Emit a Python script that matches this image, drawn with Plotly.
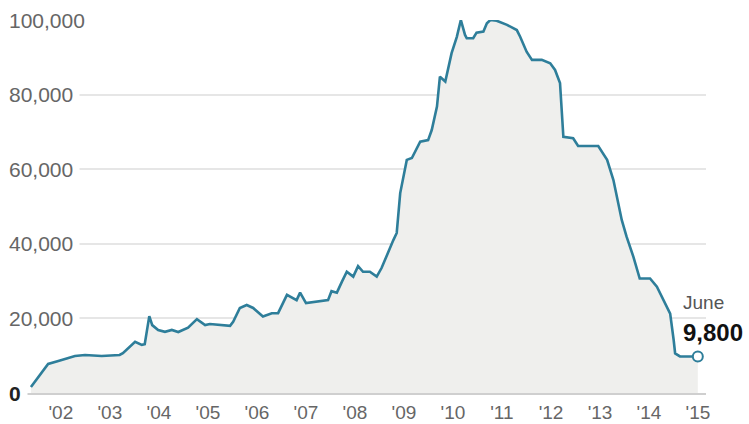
import plotly.graph_objects as go

# ---- data ----
dates = [
    "2001-11-20", "2002-03-28", "2002-06-12", "2002-10-14", "2002-12-28",
    "2003-05-01", "2003-09-12", "2003-10-06", "2004-01-05", "2004-02-24",
    "2004-03-17", "2004-04-20", "2004-05-12", "2004-06-25", "2004-08-15",
    "2004-10-05", "2004-11-22", "2005-02-03", "2005-04-10", "2005-06-10",
    "2005-07-16", "2005-12-13", "2006-01-05", "2006-02-24", "2006-04-16",
    "2006-06-03", "2006-08-15", "2006-10-20", "2006-12-06", "2007-02-10",
    "2007-04-23", "2007-05-19", "2007-07-02", "2007-09-20", "2007-12-13",
    "2008-01-08", "2008-02-17", "2008-03-25", "2008-05-01", "2008-06-18",
    "2008-07-24", "2008-08-30", "2008-10-20", "2008-12-10", "2009-01-15",
    "2009-04-13", "2009-05-08", "2009-06-03", "2009-07-22", "2009-08-29",
    "2009-10-30", "2009-12-28", "2010-01-24", "2010-03-04", "2010-03-26",
    "2010-05-05", "2010-06-21", "2010-07-30", "2010-08-29", "2010-09-29",
    "2010-10-12", "2010-11-29", "2010-12-24", "2011-02-13", "2011-03-11",
    "2011-04-06", "2011-05-23", "2011-08-08", "2011-10-20", "2011-11-14",
    "2012-01-01", "2012-02-10", "2012-04-23", "2012-06-25", "2012-07-31",
    "2012-09-06", "2012-10-01", "2012-12-13", "2013-01-19", "2013-06-18",
    "2013-08-23", "2013-10-09", "2013-11-03", "2013-12-10", "2014-01-15",
    "2014-03-07", "2014-04-23", "2014-07-09", "2014-08-29", "2014-10-16",
    "2014-12-06", "2015-01-01", "2015-01-12", "2015-02-17", "2015-06-30",
]
troops = [
    1600, 7800, 8600, 9900, 10200,
    9900, 10200, 10700, 13750, 12900,
    13100, 20600, 18200, 16900, 16400,
    16900, 16350, 17500, 19800, 18200,
    18500, 18000, 19100, 22800, 23600,
    22800, 20500, 21400, 21400, 26300,
    24900, 26900, 24100, 24500, 24900,
    27300, 26900, 29800, 32500, 31200,
    34000, 32500, 32500, 31200, 33500,
    41000, 42900, 53600, 62500, 63000,
    67400, 67800, 70500, 76800, 84800,
    83500, 91100, 95500, 100000, 96000,
    95100, 95100, 96600, 96900, 99100,
    100000, 99800, 98700, 97300, 95500,
    91500, 89300, 89300, 88400, 86600,
    83100, 68700, 68300, 66200, 66200,
    62500, 57100, 52600, 46400, 41900,
    36500, 30700, 30700, 28500, 24900,
    21300, 14200, 10600, 9800, 9800,
]

x_tick_vals = [f"{y}-07-01" for y in range(2002, 2016)]
x_tick_text = ["'02", "'03", "'04", "'05", "'06", "'07", "'08",
               "'09", "'10", "'11", "'12", "'13", "'14", "'15"]
year_bounds = [f"{y}-01-01" for y in range(2002, 2016)]
y_tick_vals = [0, 20000, 40000, 60000, 80000, 100000]
y_tick_text = ["0", "20,000", "40,000", "60,000", "80,000", "100,000"]

last_label = "June"
last_value_text = "9,800"

LINE = "#2e7e9a"
FILL = "#efefed"
FONT = "Liberation Sans, Arial, sans-serif"

fig = go.Figure()
fig.add_trace(go.Scatter(
    x=dates, y=troops, mode="lines",
    line=dict(color=LINE, width=2.6),
    fill="tozeroy", fillcolor=FILL,
    hoverinfo="skip", showlegend=False,
))
fig.add_trace(go.Scatter(
    x=[dates[-1]], y=[troops[-1]], mode="markers",
    marker=dict(size=10, color="white", line=dict(color=LINE, width=2)),
    hoverinfo="skip", showlegend=False,
))

# y tick labels drawn as annotations with white background to break gridlines
for v, t in zip(y_tick_vals, y_tick_text):
    is_zero = v == 0
    fig.add_annotation(
        xref="paper", yref="y", x=0, y=v, xanchor="left", yanchor="middle",
        text=f"<b>{t}</b>" if is_zero else t,
        showarrow=False, bgcolor="white", borderpad=6, xshift=-6,
        font=dict(family=FONT, size=21, color="#222" if is_zero else "#666"),
    )

# end label
fig.add_annotation(
    x=dates[-1], y=troops[-1], xanchor="left", yanchor="middle",
    text=last_label, showarrow=False, xshift=-17, yshift=54,
    font=dict(family=FONT, size=19, color="#555"),
)
fig.add_annotation(
    x=dates[-1], y=troops[-1], xanchor="left", yanchor="middle",
    text=f"<b>{last_value_text}</b>", showarrow=False, xshift=-17, yshift=24,
    font=dict(family=FONT, size=24, color="#111"),
)

fig.update_layout(
    width=749, height=424,
    margin=dict(l=8, r=43, t=20, b=31),
    paper_bgcolor="white", plot_bgcolor="white",
    showlegend=False,
    xaxis=dict(
        type="date",
        range=["2001-06-02", "2015-08-30"],
        tickmode="array", tickvals=x_tick_vals, ticktext=x_tick_text,
        ticks="", showgrid=False, zeroline=False,
        showline=True, linecolor="#cfcfcf", linewidth=2,
        tickfont=dict(family=FONT, size=19, color="#666"),
        ticklabelstandoff=1,
        automargin=False,
        layer="above traces",
        minor=dict(tickmode="array", tickvals=year_bounds, showgrid=True,
                   gridcolor="rgba(255,255,255,0.75)", gridwidth=1, ticks=""),
    ),
    yaxis=dict(
        range=[0, 100000],
        tickmode="array", tickvals=y_tick_vals,
        showticklabels=False, ticks="",
        showgrid=True, gridcolor="#e6e6e6", gridwidth=2,
        zeroline=False, layer="below traces", automargin=False,
    ),
)

fig.write_html(
    "out.html",
    config={"displayModeBar": False},
    post_script="document.body.style.margin='0';document.body.style.overflow='hidden';",
)
